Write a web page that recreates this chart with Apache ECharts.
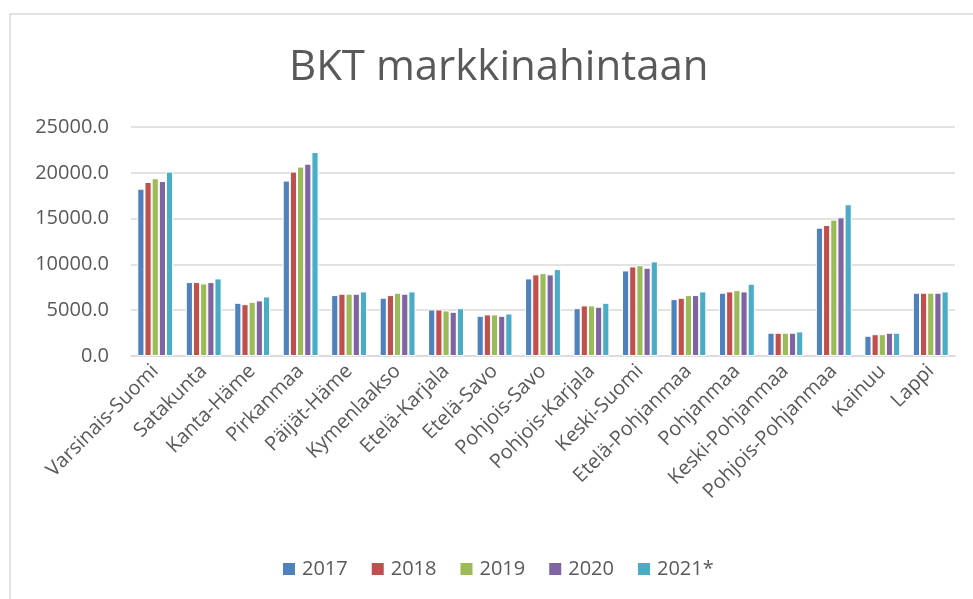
<!DOCTYPE html>
<html>
<head>
<meta charset="utf-8">
<script src="https://cdn.jsdelivr.net/npm/echarts@6/dist/echarts.min.js"></script>
<style>
  html, body { margin: 0; padding: 0; background: #fff; }
  #main { width: 973px; height: 599px; }
</style>
</head>
<body>
<div id="main"></div>
<script>
// maakunnat ja vuodet
const regions = ["Varsinais-Suomi", "Satakunta", "Kanta-Häme", "Pirkanmaa", "Päijät-Häme",
  "Kymenlaakso", "Etelä-Karjala", "Etelä-Savo", "Pohjois-Savo", "Pohjois-Karjala",
  "Keski-Suomi", "Etelä-Pohjanmaa", "Pohjanmaa", "Keski-Pohjanmaa", "Pohjois-Pohjanmaa",
  "Kainuu", "Lappi"];
const years = ["2017", "2018", "2019", "2020", "2021*"];
const colors = ["#4f81bd", "#c0504d", "#9bbb59", "#8064a2", "#4bacc6"];

const v2017 = [18270, 8070, 5810, 19150, 6650, 6360, 5080, 4390, 8470, 5220, 9340, 6210, 6910, 2540, 14010, 2210, 6910];
const v2018 = [19000, 8070, 5660, 20130, 6800, 6650, 5080, 4540, 8910, 5520, 9780, 6360, 7050, 2540, 14300, 2380, 6910];
const v2019 = [19400, 7920, 5920, 20680, 6800, 6900, 4970, 4540, 9050, 5520, 9920, 6650, 7190, 2540, 14890, 2380, 6910];
const v2020 = [19100, 8070, 6070, 21000, 6800, 6800, 4830, 4390, 8910, 5380, 9640, 6650, 7050, 2540, 15140, 2540, 6910];
const v2021 = [20130, 8470, 6500, 22270, 7050, 7050, 5220, 4640, 9490, 5810, 10330, 7050, 7890, 2680, 16560, 2540, 7050];
const yTicks = [0, 5000, 10000, 15000, 20000, 25000];

const values = [v2017, v2018, v2019, v2020, v2021];
const font = "'Open Sans', 'Noto Sans', sans-serif";
const textColor = "#595959";

let chart = echarts.init(document.getElementById("main"));
chart.setOption({
  animation: false,
  color: colors,
  title: {
    text: "BKT markkinahintaan",
    left: 284,
    top: 42,
    textStyle: { fontFamily: font, fontSize: 42, fontWeight: "normal", color: textColor }
  },
  graphic: [{
    type: "rect",
    shape: { x: 10, y: 14, width: 1000, height: 700 },
    style: { fill: "none", stroke: "#d9d9d9", lineWidth: 1.5 },
    silent: true, z: -1
  }],
  legend: {
    bottom: 15,
    left: 276,
    itemWidth: 14,
    itemHeight: 14,
    itemGap: 22,
    icon: "rect",
    textStyle: { fontFamily: font, fontSize: 20, color: textColor, padding: [0, 0, 0, 1] },
    data: years
  },
  grid: { left: 131, right: 18, top: 127, bottom: 243 },
  xAxis: {
    type: "category",
    data: regions,
    axisLine: { lineStyle: { color: "#d9d9d9", width: 1.5 } },
    axisTick: { show: false },
    axisLabel: { interval: 0, rotate: 45, margin: 12, fontFamily: font, fontSize: 20, color: textColor }
  },
  yAxis: {
    type: "value",
    min: yTicks[0],
    max: yTicks[yTicks.length - 1],
    interval: 5000,
    axisLine: { show: false },
    axisTick: { show: false },
    axisLabel: { margin: 22, fontFamily: font, fontSize: 20, color: textColor, formatter: (v) => v.toFixed(1) },
    splitLine: { lineStyle: { color: "#d9d9d9", width: 1.5 } }
  },
  series: years.map((y, i) => ({
    name: y,
    type: "bar",
    data: values[i],
    barGap: "0%",
    barCategoryGap: "26%",
    itemStyle: { borderColor: "#fff", borderWidth: 1 }
  }))
});
</script>
</body>
</html>
